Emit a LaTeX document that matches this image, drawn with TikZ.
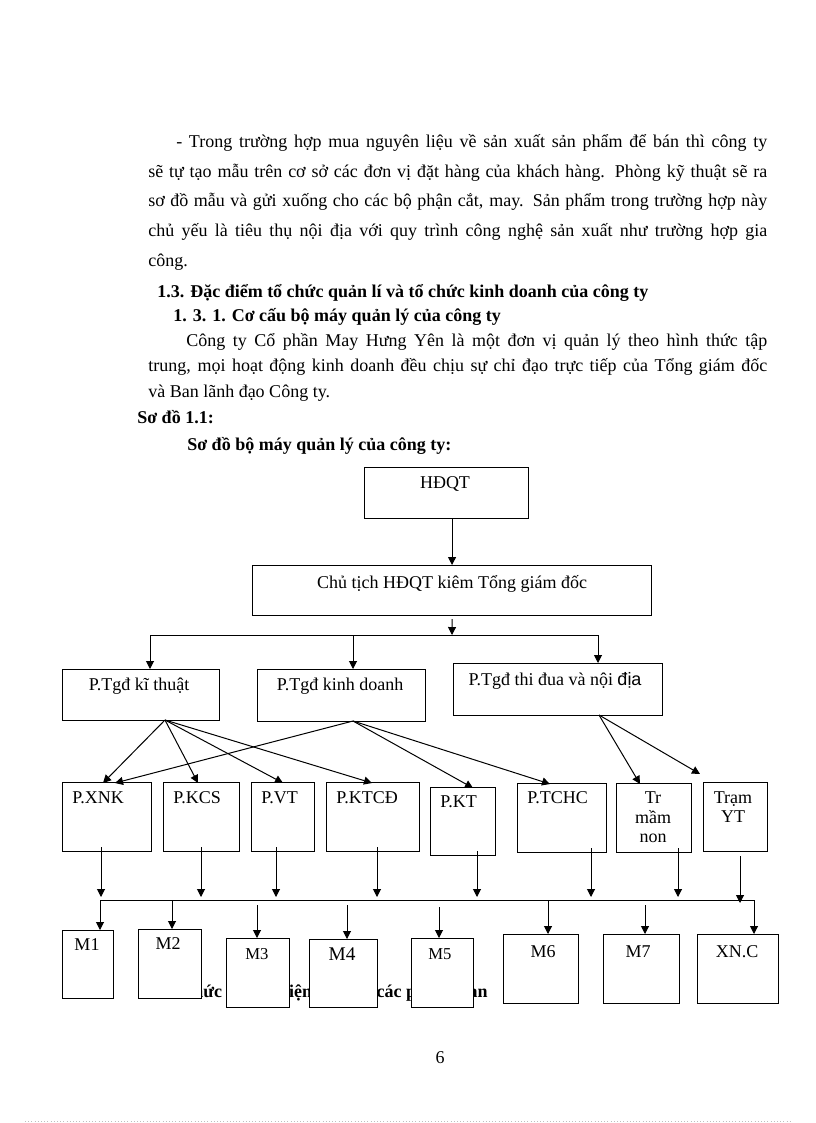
\documentclass[tikz,border=0pt]{standalone}
\usepackage{fontspec}
\setmainfont{Liberation Serif}
\newfontfamily\sansf{Liberation Sans}
\usetikzlibrary{arrows.meta,calc}
\newcommand\fsz{\fontsize{13.5}{16}\selectfont}
\newcommand\pbox[5]{\node[box, anchor=north west, minimum width={(#4-#2)*0.75pt}, minimum height={(#5-#3)*0.75pt}] (#1) at (#2,#3) {};}
\begin{document}
\begin{tikzpicture}[x=0.75pt,y=-0.75pt,
  ptxt/.style={inner sep=0pt, anchor=base west, font=\fsz},
  btxt/.style={inner sep=0pt, anchor=base west, font=\fsz\bfseries},
  lab/.style={inner sep=0pt, anchor=base, font=\fsz},
  llab/.style={inner sep=0pt, anchor=base west, font=\fsz},
  box/.style={draw, line width=0.8pt, fill=white, inner sep=0pt},
  arr/.style={-{Triangle[length=6pt,width=6pt]}, line width=0.75pt},
  ln/.style={line width=0.75pt}]
\useasboundingbox (0,0) rectangle (816,1123);
\fill[white] (0,0) rectangle (816,1123);

% ---- text of the page ----
\node[ptxt] (p1) at (176,148) {\makebox[443.25pt][s]{- Trong trường hợp mua nguyên liệu về sản xuất sản phẩm để bán thì công ty}};
\node[ptxt] (p2) at (148,178) {\makebox[464.25pt][s]{sẽ tự tạo mẫu trên cơ sở các đơn vị đặt hàng của khách hàng.  Phòng kỹ thuật sẽ ra}};
\node[ptxt] (p3) at (148,207) {\makebox[464.25pt][s]{sơ đồ mẫu và gửi xuống cho các bộ phận cắt, may. Sản phẩm trong trường hợp này}};
\node[ptxt] (p4) at (148,237) {\makebox[464.25pt][s]{chủ yếu là tiêu thụ nội địa với quy trình công nghệ sản xuất như trường hợp gia}};
\node[ptxt] (p5) at (148,267) {công.};
\node[btxt] (h1) at (157,297) {1.3. Đặc điểm tổ chức quản lí và tổ chức kinh doanh của công ty};
\node[btxt] (h2) at (173,321) {1. 3. 1. Cơ cấu bộ máy quản lý của công ty};
\node[ptxt] (p6) at (186,346) {\makebox[435.75pt][s]{Công ty Cổ phần May Hưng Yên là một đơn vị quản lý theo hình thức tập}};
\node[ptxt] (p7) at (148,371) {\makebox[464.25pt][s]{trung, mọi hoạt động kinh doanh đều chịu sự chỉ đạo trực tiếp của Tổng giám đốc}};
\node[ptxt] (p8) at (148,397) {và Ban lãnh đạo Công ty.};
\node[btxt] (h3) at (137,423) {Sơ đồ 1.1:};
\node[btxt] (h4) at (187,450) {Sơ đồ bộ máy quản lý của công ty:};
\node[btxt] (cap) at (180,997) {Chức năng nhiệm vụ của các phòng ban};
\node[lab] (pg) at (440,1063) {6};

% ---- boxes ----
\pbox{hdqt}{364}{467}{528}{518}
\pbox{ct}{252}{565}{651}{615}
\pbox{pkt}{62}{669}{219}{720}
\pbox{pkd}{257}{669}{425}{721}
\pbox{ptd}{453}{663}{662}{715}
\pbox{xnk}{62}{782}{151}{851}
\pbox{kcs}{163}{782}{239}{851}
\pbox{vt}{251}{782}{314}{851}
\pbox{ktcd}{326}{782}{419}{851}
\pbox{pkto}{430}{787}{495}{855}
\pbox{tchc}{517}{783}{606}{852}
\pbox{mn}{616}{783}{691}{852}
\pbox{yt}{703}{782}{767}{851}
\pbox{m1}{62}{930}{113}{998}
\pbox{m2}{138}{929}{201}{998}
\pbox{m3}{226}{938}{289}{1007}
\pbox{m4}{309}{939}{377}{1007}
\pbox{m5}{411}{938}{473}{1007}
\pbox{m6}{503}{934}{578}{1003}
\pbox{m7}{603}{934}{679}{1003}
\pbox{xnc}{697}{934}{778}{1003}

% ---- box labels ----
\node[lab] (l0) at (445,488) {HĐQT};
\node[lab] (l1) at (452,588) {Chủ tịch HĐQT\  kiêm Tổng giám đốc};
\node[lab] (l2) at (139,690) {P.Tgđ kĩ thuật};
\node[lab] (l3) at (340,690) {P.Tgđ kinh doanh};
\node[lab] (l4) at (555,685) {P.Tgđ thi đua và nội {\sansf địa}};
\node[llab] (l5) at (72,803) {P.XNK};
\node[llab] (l6) at (173,803) {P.KCS};
\node[llab] (l7) at (261,803) {P.VT};
\node[llab] (l8) at (336,803) {P.KTCĐ};
\node[llab] (l9) at (440,807) {P.KT};
\node[llab] (l10) at (527,803) {P.TCHC};
\node[lab] (l11a) at (653,803) {Tr};
\node[lab] (l11b) at (653,823) {mầm};
\node[lab] (l11c) at (653,842) {non};
\node[lab] (l12a) at (733,803) {Trạm};
\node[lab] (l12b) at (733,822) {YT};
\node[lab] (n1) at (87,950) {M1};
\node[lab] (n2) at (168,949) {M2};
\node[lab, font=\fontsize{12.5}{15}\selectfont] (n3) at (257,959) {M3};
\node[lab, font=\fontsize{14.5}{16}\selectfont] (n4) at (342,960) {M4};
\node[lab, font=\fontsize{12.5}{15}\selectfont] (n5) at (440,959) {M5};
\node[lab] (n6) at (543,957) {M6};
\node[lab] (n7) at (638,957) {M7};
\node[lab] (n8) at (737,957) {XN.C};

% ---- connectors, top ----
\draw[arr] (hdqt.south -| ct.north) -- (ct.north);
\coordinate (bT) at (452,635);
\coordinate (bL) at (150,635);
\coordinate (bM) at (353,635);
\coordinate (bR) at (598,635);
\draw[arr] ($(ct.south)+(0,3)$) -- (bT);
\draw[ln] (bL) -- (bR);
\draw[arr] (bL) -- (bL |- pkt.north);
\draw[arr] (bM) -- (bM |- pkd.north);
\draw[arr] (bR) -- (bR |- ptd.north);

% ---- diagonal connectors ----
\coordinate (ktO) at (165,720);
\coordinate (kdO) at (353,721);
\coordinate (tdO) at (599,715);
\coordinate (a1) at (103,783);
\coordinate (a2) at (198,783);
\coordinate (a3) at (283,783);
\coordinate (a4) at (372,783);
\coordinate (a5) at (115,783);
\coordinate (a6) at (473,788);
\coordinate (a7) at (550,784);
\coordinate (a8) at (640,784);
\coordinate (a9) at (700,774);
\draw[arr] (ktO) -- (a1);
\draw[arr] (ktO) -- (a2);
\draw[arr] (ktO) -- (a3);
\draw[arr] (ktO) -- (a4);
\draw[arr] (kdO) -- (a5);
\draw[arr] (kdO) -- (a6);
\draw[arr] (kdO) -- (a7);
\draw[arr] (tdO) -- (a8);
\draw[arr] (tdO) -- (a9);

% ---- down to lower bus ----
\coordinate (d1) at (101,897);
\coordinate (d2) at (201,897);
\coordinate (d3) at (276,897);
\coordinate (d4) at (377,897);
\coordinate (d5) at (477,897);
\coordinate (d6) at (591,897);
\coordinate (d7) at (678,897);
\coordinate (d8) at (740,903);
\draw[arr] ($(d1 |- xnk.south)+(0,-5)$) -- (d1);
\draw[arr] ($(d2 |- kcs.south)+(0,-5)$) -- (d2);
\draw[arr] ($(d3 |- vt.south)+(0,-5)$) -- (d3);
\draw[arr] ($(d4 |- ktcd.south)+(0,-5)$) -- (d4);
\draw[arr] ($(d5 |- pkto.south)+(0,-5)$) -- (d5);
\draw[arr] ($(d6 |- tchc.south)+(0,-5)$) -- (d6);
\draw[arr] ($(d7 |- mn.south)+(0,-5)$) -- (d7);
\draw[arr] ($(d8 |- yt.south)+(0,4)$) -- (d8);

% ---- lower bus to M boxes ----
\coordinate (e1) at (100,900);
\coordinate (e2) at (172,900);
\coordinate (e3) at (257,905);
\coordinate (e4) at (347,905);
\coordinate (e5) at (439,907);
\coordinate (e6) at (548,900);
\coordinate (e7) at (645,905);
\coordinate (e8) at (754,900);
\draw[arr] (e1) -- (e8) -- (e8 |- xnc.north);
\draw[arr] (e1) -- (e1 |- m1.north);
\draw[arr] (e2) -- (e2 |- m2.north);
\draw[arr] (e3) -- (e3 |- m3.north);
\draw[arr] (e4) -- (e4 |- m4.north);
\draw[arr] (e5) -- (e5 |- m5.north);
\draw[arr] (e6) -- (e6 |- m6.north);
\draw[arr] (e7) -- (e7 |- m7.north);

% faint page-edge dots
\draw[black!25, dotted, line width=0.4pt] (25,1121) -- (791,1121);
\end{tikzpicture}
\end{document}
